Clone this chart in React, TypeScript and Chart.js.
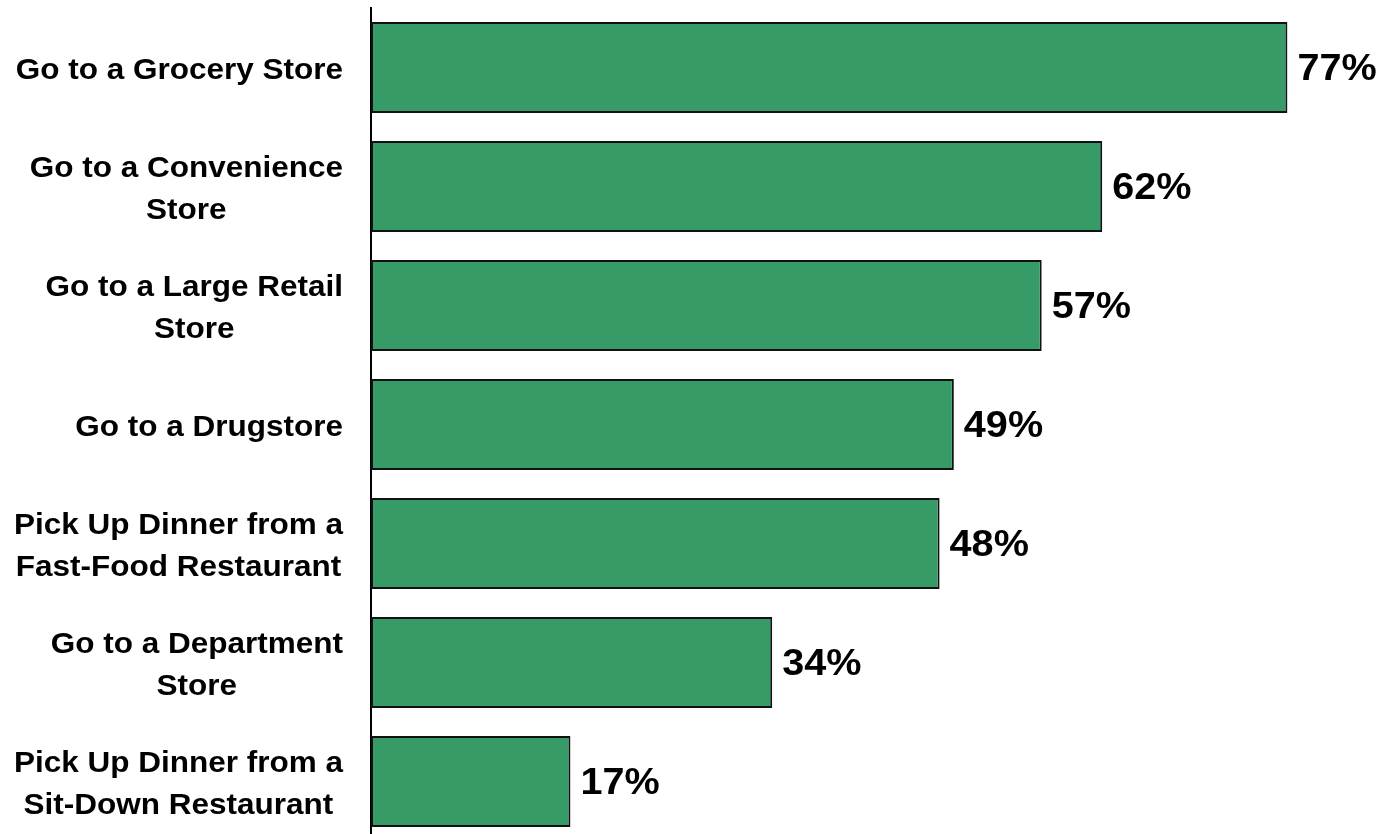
import React, { useEffect, useRef } from "react";
import { Chart, registerables } from "chart.js";

Chart.register(...registerables);

const categories: string[][] = [
  ["Go to a Grocery Store"],
  ["Go to a Convenience", "Store"],
  ["Go to a Large Retail", "Store"],
  ["Go to a Drugstore"],
  ["Pick Up Dinner from a", "Fast-Food Restaurant"],
  ["Go to a Department", "Store"],
  ["Pick Up Dinner from a", "Sit-Down Restaurant"],
];

const values: number[] = [77.2, 61.6, 56.5, 49.1, 47.9, 33.8, 16.8];

const xMin = 0;
const xMax = 85;

const FONT = "'Liberation Sans', sans-serif";

const labelsPlugin = {
  id: "customLabels",
  afterDraw(chart: any) {
    const ctx = chart.ctx;
    const yScale = chart.scales.y;
    const xScale = chart.scales.x;
    ctx.save();
    // category labels
    ctx.font = `bold 30px ${FONT}`;
    ctx.fillStyle = "#000";
    ctx.textBaseline = "middle";
    ctx.textAlign = "center";
    const sxCat = 1.05;
    const lineH = 41.5;
    const rightEdge = yScale.right - 28;
    categories.forEach((lines, i) => {
      const cy = yScale.getPixelForValue(i) + 3;
      const maxW = Math.max(...lines.map((l) => ctx.measureText(l).width)) * sxCat;
      const cx = rightEdge - maxW / 2;
      const startY = cy - ((lines.length - 1) * lineH) / 2;
      lines.forEach((l, j) => {
        ctx.save();
        ctx.translate(cx, startY + j * lineH);
        ctx.scale(sxCat, 1);
        ctx.fillText(l, 0, 0);
        ctx.restore();
      });
    });
    // value labels
    ctx.font = `bold 36px ${FONT}`;
    ctx.textAlign = "left";
    const sxVal = 1.1;
    values.forEach((v, i) => {
      const x = xScale.getPixelForValue(v) + 10;
      const y = yScale.getPixelForValue(i) + 3;
      ctx.save();
      ctx.translate(x, y);
      ctx.scale(sxVal, 1);
      ctx.fillText(`${Math.round(v)}%`, 0, 0);
      ctx.restore();
    });
    ctx.restore();
  },
};

export default function App() {
  const canvasRef = useRef<HTMLCanvasElement | null>(null);

  useEffect(() => {
    document.body.style.margin = "0";
    const canvas = canvasRef.current;
    if (!canvas) return;
    const chart = new Chart(canvas, {
      type: "bar",
      data: {
        labels: categories.map((c) => c.join(" ")),
        datasets: [
          {
            data: values,
            backgroundColor: "#379b68",
            borderColor: "#111111",
            borderWidth: 2,
            borderSkipped: false,
            categoryPercentage: 1,
            barPercentage: 0.765,
          },
        ],
      },
      options: {
        indexAxis: "y",
        responsive: false,
        animation: false,
        devicePixelRatio: 1,
        layout: { padding: { top: 8, bottom: 1, left: 0, right: 0 } },
        plugins: {
          legend: { display: false },
          tooltip: { enabled: false },
          title: { display: false },
        },
        scales: {
          x: {
            display: false,
            min: xMin,
            max: xMax,
            grid: { display: false },
          },
          y: {
            position: "left",
            grid: { display: false, drawTicks: false },
            border: { display: true, color: "#000", width: 2 },
            ticks: { display: false },
            afterFit(scale: any) {
              scale.width = 371;
            },
          },
        },
      },
      plugins: [labelsPlugin],
    });
    return () => chart.destroy();
  }, []);

  return (
    <div
      style={{
        position: "fixed",
        left: 0,
        top: 0,
        width: 1380,
        height: 834,
        overflow: "hidden",
        background: "#fff",
      }}
    >
      <canvas ref={canvasRef} width={1380} height={842} style={{ display: "block" }} />
    </div>
  );
}
